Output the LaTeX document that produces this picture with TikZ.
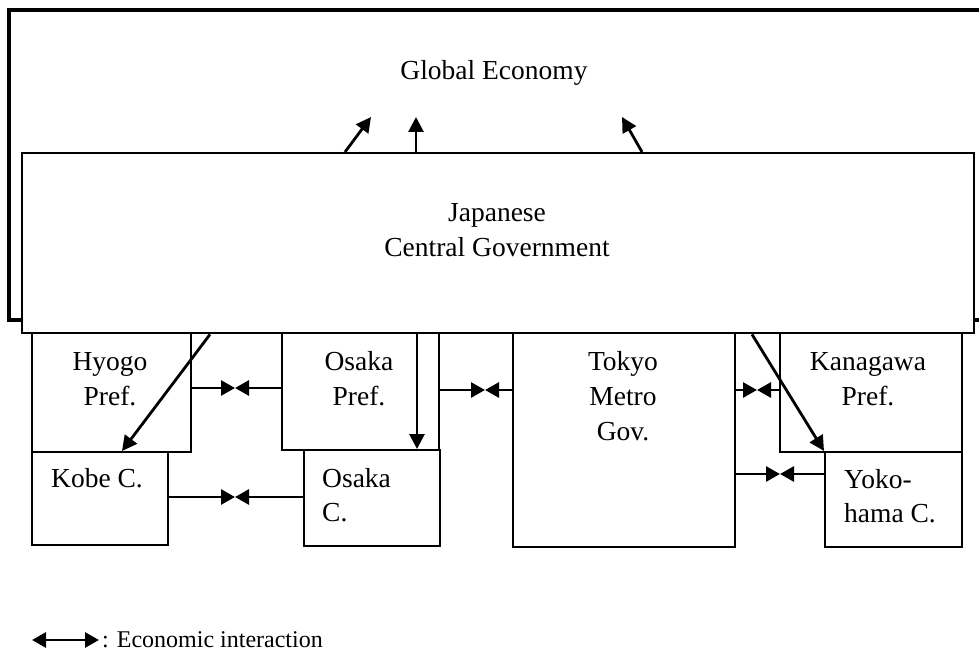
\documentclass[tikz,border=0pt]{standalone}
\usepackage{fontspec}
\setmainfont{Liberation Serif}
\usetikzlibrary{arrows.meta}
\begin{document}
\begin{tikzpicture}[x=1pt,y=-1pt,
  box/.style={draw,line width=2.4pt,fill=white,inner sep=0pt,anchor=north west},
  lbl/.style={font=\fontsize{27.5}{35}\selectfont,align=center,inner sep=0pt},
  lbll/.style={font=\fontsize{27.5}{34}\selectfont,align=left,inner sep=0pt,anchor=north west},
  arr/.style={line width=2.8pt,-{Triangle[length=15pt,width=15pt]}},
  inter/.style={line width=2.8pt,-{Triangle[length=14pt,width=15pt]}}]
\useasboundingbox (0,0) rectangle (979,671);
% outer global economy frame
\node[draw,line width=3.8pt,inner sep=0pt,anchor=north west,minimum width=990pt,minimum height=310pt] (global) at (7,8) {};
\node[lbl] (globalT) at (494,73) {Global Economy};
% lower boxes
\node[box,minimum width=159pt,minimum height=120pt] (hyogo) at (31,331) {};
\node[box,minimum width=136pt,minimum height=93pt] (kobe) at (31,451) {};
\node[box,minimum width=157pt,minimum height=118pt] (osakaP) at (281,331) {};
\node[box,minimum width=136pt,minimum height=96pt] (osakaC) at (303,449) {};
\node[box,minimum width=222pt,minimum height=215pt] (tokyo) at (512,331) {};
\node[box,minimum width=182pt,minimum height=120pt] (kanagawa) at (779,331) {};
\node[box,minimum width=137pt,minimum height=95pt] (yokohama) at (824,451) {};
% central government
\node[box,minimum width=952pt,minimum height=180pt] (gov) at (21,152) {};
\node[lbl] (govT) at (497,230) {Japanese\\Central Government};
% labels
\node[lbl] (hyogoT) at (110,379) {Hyogo\\Pref.};
\node[lbl,anchor=north] (kobeT) at (97,468) {Kobe C.};
\node[lbl] (osakaPT) at (359,379) {Osaka\\Pref.};
\node[lbll] (osakaCT) at (322,468) {Osaka\\C.};
\node[lbl] (tokyoT) at (623,396) {Tokyo\\Metro\\Gov.};
\node[lbl] (kanagawaT) at (868,379) {Kanagawa\\Pref.};
\node[lbll] (yokohamaT) at (844,469) {Yoko-\\hama C.};
% arrows to global economy
\coordinate (g1) at (371,117);
\coordinate (g2) at (416,117);
\coordinate (g3) at (622,117);
\draw[arr] (gov.north west -| 345,0) -- (g1);
\draw[arr] (gov.north west -| 416,0) -- (g2);
\draw[arr] (gov.north west -| 642,0) -- (g3);
% central gov to cities
\draw[arr] (gov.south west -| 210,0) -- (kobe.north west -| 122,0);
\draw[arr] (gov.south west -| 417,0) -- (osakaC.north west -| 417,0);
\draw[arr] (gov.south west -| 752,0) -- (yokohama.north west);
% economic interactions
\coordinate (m1) at (235,388);
\draw[inter] (hyogo.east |- m1) -- (m1);
\draw[inter] (osakaP.west |- m1) -- (m1);
\coordinate (m2) at (235,497);
\draw[inter] (kobe.east |- m2) -- (m2);
\draw[inter] (osakaC.west |- m2) -- (m2);
\coordinate (m3) at (485,390);
\draw[inter] (osakaP.east |- m3) -- (m3);
\draw[inter] (tokyo.west |- m3) -- (m3);
\coordinate (m4) at (757,390);
\draw[inter] (tokyo.east |- m4) -- (m4);
\draw[inter] (kanagawa.west |- m4) -- (m4);
\coordinate (m5) at (780,474);
\draw[inter] (tokyo.east |- m5) -- (m5);
\draw[inter] (yokohama.west |- m5) -- (m5);
% legend
\coordinate (la) at (32,640);
\coordinate (lb) at (99,640);
\draw[line width=2.8pt,{Triangle[length=14pt,width=15pt]}-{Triangle[length=14pt,width=15pt]}] (la) -- (lb);
\node[font=\fontsize{24}{28}\selectfont,anchor=west,inner sep=0pt] (legendT) at (102,640) {: Economic interaction};
\end{tikzpicture}
\end{document}
